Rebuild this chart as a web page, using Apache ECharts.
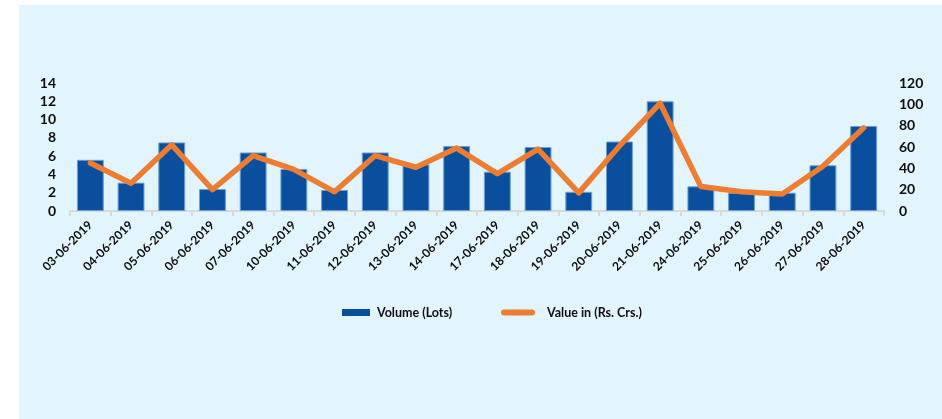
<!DOCTYPE html>
<html>
<head>
<meta charset="utf-8">
<script src="https://cdn.jsdelivr.net/npm/echarts@6/dist/echarts.min.js"></script>
<style>
html,body{margin:0;padding:0;background:#ffffff;}
#c{width:942px;height:419px;}
</style>
</head>
<body>
<div id="c"></div>
<script>
const categories = ['03-06-2019','04-06-2019','05-06-2019','06-06-2019','07-06-2019','10-06-2019','11-06-2019','12-06-2019','13-06-2019','14-06-2019','17-06-2019','18-06-2019','19-06-2019','20-06-2019','21-06-2019','24-06-2019','25-06-2019','26-06-2019','27-06-2019','28-06-2019'];
const volumeLots = [5.6, 3.1, 7.5, 2.4, 6.4, 4.6, 2.3, 6.4, 5.1, 7.1, 4.3, 7.0, 2.1, 7.6, 12.0, 2.7, 2.0, 2.0, 5.0, 9.3];
const valueCrs = [45, 26, 62, 20, 52, 39, 18, 52, 41, 59, 35, 58, 17, 61, 101, 23, 18, 16, 42, 78];
const leftTicks = {min: 0, max: 14, interval: 2};
const rightTicks = {min: 0, max: 120, interval: 20};

const chart = echarts.init(document.getElementById('c'), null, {renderer: 'canvas'});
const font = 'Lato';
chart.setOption({
  animation: false,
  graphic: [{
    type: 'rect', left: 19, top: 5, z: -10,
    shape: {width: 923, height: 414},
    style: {fill: '#e2f4fd'}
  }],
  grid: {left: 70, right: 58, top: 83, bottom: 208, containLabel: false},
  legend: [{
    data: ['Volume (Lots)'],
    left: 337, top: 301,
    icon: 'rect', itemWidth: 28, itemHeight: 7,
    itemStyle: {borderWidth: 0},
    textStyle: {fontFamily: font, fontWeight: 'bold', fontSize: 12.5, color: '#0d0d0d', padding: [0,0,0,2]}
  }, {
    data: ['Value in (Rs. Crs.)'],
    left: 496, top: 301,
    itemWidth: 28, itemHeight: 7,
    lineStyle: {width: 6, cap: 'round'},
    textStyle: {fontFamily: font, fontWeight: 'bold', fontSize: 12.5, color: '#0d0d0d', padding: [0,0,0,10]}
  }],
  xAxis: {
    type: 'category',
    data: categories,
    boundaryGap: true,
    axisLine: {show: true, lineStyle: {color: '#d9d9d9', width: 2}},
    axisTick: {show: true, alignWithLabel: false, length: 5, lineStyle: {color: '#d9d9d9', width: 2}},
    axisLabel: {interval: 0, rotate: 45, margin: 12, fontFamily: font, fontWeight: 'bold', fontSize: 12, color: '#0d0d0d'}
  },
  yAxis: [{
    type: 'value', min: leftTicks.min, max: leftTicks.max, interval: leftTicks.interval,
    axisLine: {show: false}, axisTick: {show: false}, splitLine: {show: false},
    axisLabel: {margin: 14, fontFamily: font, fontWeight: 'bold', fontSize: 14, color: '#0d0d0d'}
  }, {
    type: 'value', min: rightTicks.min, max: rightTicks.max, interval: rightTicks.interval,
    axisLine: {show: false}, axisTick: {show: false}, splitLine: {show: false},
    axisLabel: {margin: 15, fontFamily: font, fontWeight: 'bold', fontSize: 14, color: '#0d0d0d'}
  }],
  series: [{
    name: 'Volume (Lots)',
    type: 'bar',
    yAxisIndex: 0,
    data: volumeLots,
    barCategoryGap: '34%',
    itemStyle: {color: '#0a4f9e', borderColor: '#6a9fd8', borderWidth: 1}
  }, {
    name: 'Value in (Rs. Crs.)',
    type: 'line',
    yAxisIndex: 1,
    data: valueCrs,
    symbol: 'none',
    showSymbol: false,
    lineStyle: {color: '#ed7d31', width: 5.5, cap: 'round', join: 'round'},
    itemStyle: {color: '#ed7d31'},
    z: 5
  }]
});
</script>
</body>
</html>
